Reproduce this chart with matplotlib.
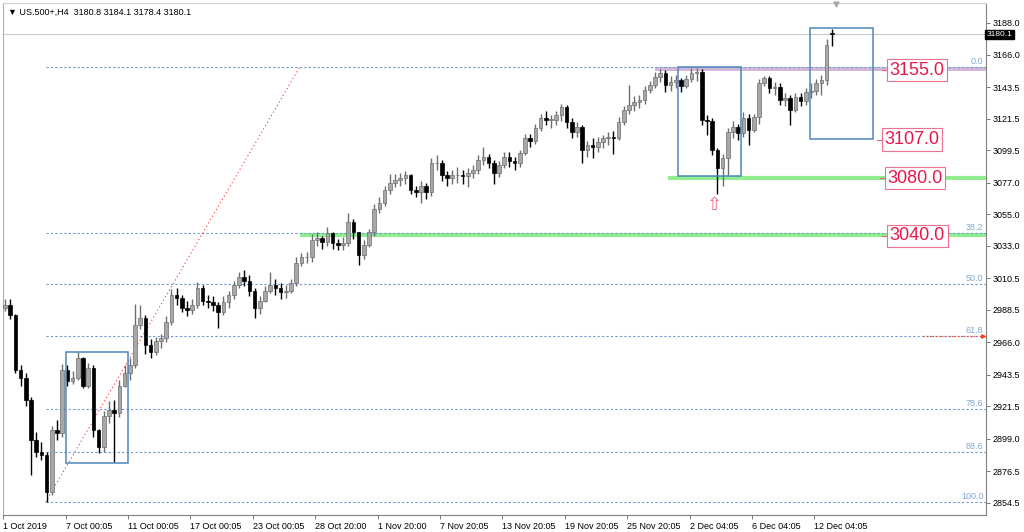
import matplotlib
matplotlib.use("Agg")
import matplotlib.pyplot as plt
import matplotlib.patches as mpatches

plt.rcParams['font.family'] = ['Liberation Sans', 'DejaVu Sans']

# H4 candles, 1 Oct - 12 Dec 2019 (one candle = 8 hours)
closes = [2992, 2985, 2947, 2941, 2926, 2898, 2890, 2888, 2862, 2905,
          2903, 2947, 2939, 2941, 2955, 2936, 2948, 2905, 2893, 2915,
          2919, 2917, 2936, 2945, 2950, 2978, 2983, 2964, 2959, 2967,
          2969, 2980, 2999, 2997, 2990, 2988.5, 2992, 3004, 2995, 2994,
          2992, 2987, 2994, 2999, 3006, 3011.5, 3009, 3002, 2990, 2995,
          3002, 3006, 3003.5, 3001, 3002, 3007, 3021, 3025, 3025.5, 3037,
          3038.5, 3035.5, 3042, 3035, 3034, 3035, 3049.5, 3042.5, 3026.5, 3033.5,
          3042.5, 3059, 3063, 3072, 3077, 3079, 3080, 3082, 3072, 3070.5,
          3074.5, 3070.5, 3090.5, 3091, 3082, 3080, 3082, 3082, 3081.5, 3084,
          3085.5, 3092.5, 3095, 3091, 3084, 3089, 3095, 3092, 3090.5, 3097.5,
          3108, 3106, 3115, 3122, 3120.5, 3120.5, 3124, 3129.5, 3119, 3112,
          3116, 3099.5, 3103, 3102, 3105, 3108, 3108.5, 3108, 3119, 3127.5,
          3131, 3133, 3134.5, 3141.5, 3145, 3150.5, 3153, 3145, 3147, 3148.5,
          3144, 3149, 3153, 3154, 3120.5, 3120, 3099.5, 3087, 3094, 3112,
          3116, 3111.5, 3122, 3113.5, 3122.5, 3146, 3150, 3143, 3143.5, 3134.5,
          3136, 3127.5, 3136.5, 3134, 3140, 3140.5, 3146, 3148.5, 3172.5, 3180.1]
highs = [2996, 2996, 2986, 2950, 2945, 2928, 2904, 2897, 2890, 2908,
         2912, 2951, 2950, 2946, 2959, 2956, 2952, 2950, 2906, 2918,
         2925, 2926, 2940, 2950, 2955, 2993, 2992, 2985, 2968, 2970,
         2972, 2984, 3003, 3004, 2999, 2995, 2996, 3008, 3006, 2999,
         2998, 2994, 2998, 3002, 3009, 3015, 3016, 3013, 3004, 2998,
         3005, 3015, 3010, 3007, 3006, 3010, 3025, 3028, 3029, 3041,
         3043, 3040, 3046, 3043, 3038, 3039, 3056, 3052, 3043, 3037,
         3045, 3062, 3067, 3075, 3083, 3083, 3084, 3085, 3083, 3075,
         3078, 3077, 3094, 3096, 3093, 3085, 3086, 3088, 3086, 3087,
         3089, 3096, 3102, 3097, 3093, 3092, 3098, 3098, 3095, 3100,
         3111, 3111, 3118, 3125, 3127, 3124, 3127, 3132, 3131, 3122,
         3119, 3117, 3106, 3108, 3109, 3110, 3112, 3113, 3123, 3130,
         3145, 3137, 3138, 3144, 3148, 3154, 3156, 3155, 3151, 3152,
         3150, 3152, 3157, 3157, 3156, 3124, 3122, 3101, 3097, 3115,
         3120, 3118, 3126, 3125, 3125, 3149, 3151, 3151, 3147, 3146,
         3139, 3138, 3139, 3139, 3143, 3146, 3149, 3152, 3177, 3184.1]
lows = [2988, 2982, 2945, 2936, 2922, 2874, 2886, 2884, 2855, 2860,
        2898, 2900, 2936, 2937, 2940, 2934, 2934, 2900, 2889, 2890,
        2910, 2883, 2914, 2935, 2940, 2948, 2975, 2958, 2955, 2957,
        2962, 2966, 2978, 2992, 2987, 2984, 2986, 2990, 2992, 2990,
        2988, 2976, 2985, 2990, 2996, 3004, 3005, 2998, 2983, 2986,
        2994, 3000, 2999, 2996, 2997, 3000, 3005, 3019, 3021, 3022,
        3033, 3031, 3033, 3031, 3030, 3030, 3033, 3038, 3020, 3024,
        3032, 3040, 3056, 3061, 3069, 3074, 3075, 3076, 3069, 3067,
        3063, 3066, 3068, 3086, 3078, 3075, 3076, 3077, 3076, 3074,
        3080, 3083, 3089, 3087, 3076, 3081, 3087, 3088, 3086, 3088,
        3096, 3102, 3104, 3113, 3117, 3115, 3117, 3120, 3115, 3108,
        3109, 3091, 3095, 3094, 3098, 3101, 3103, 3097, 3107, 3117,
        3125, 3127, 3129, 3132, 3139, 3143, 3147, 3140, 3141, 3143,
        3140, 3143, 3147, 3148, 3117, 3110, 3096, 3069, 3075, 3082,
        3108, 3107, 3109, 3103, 3112, 3118, 3144, 3139, 3138, 3131,
        3130, 3117, 3126, 3130, 3131, 3136, 3138, 3138, 3145, 3172]
opens = [2990] + closes[:-1]
opens[-1] = 3180.8

date_labels = ['1 Oct 2019', '7 Oct 00:05', '11 Oct 00:05', '17 Oct 00:05', '23 Oct 00:05',
               '28 Oct 20:00', '1 Nov 20:00', '7 Nov 20:05', '13 Nov 20:05', '19 Nov 20:05',
               '25 Nov 20:05', '2 Dec 04:05', '6 Dec 04:05', '12 Dec 04:05']
price_ticks = [2854.5, 2876.5, 2899.0, 2921.5, 2943.5, 2966.0, 2988.5, 3010.5,
               3033.0, 3055.0, 3077.0, 3099.5, 3121.5, 3143.5, 3166.0, 3188.0]

fib_high, fib_low = 3157.5, 2855.0
fib_levels = [0.0, 38.2, 50.0, 61.8, 78.6, 88.6, 100.0]
level_labels = [3155.0, 3107.0, 3080.0, 3040.0]
last_price = 3180.1

fig = plt.figure(figsize=(10.24, 5.32), dpi=100, facecolor='white')
ax = fig.add_axes([3.3 / 1024, 17 / 532, 982.4 / 1024, 512 / 532])
ax.set_xlim(-0.33, 188.6)
ax.set_ylim(2846.0, 3201.9)
xr = 188.6

# 当前价格线
ax.axhline(last_price, color='#c8c8c8', lw=0.8, zorder=1)

# 斐波那契回撤
for lv in fib_levels:
    p = fib_high - (fib_high - fib_low) * lv / 100
    ax.plot([7.8, xr], [p, p], color='#6b9bd2', lw=0.8, ls=(0, (2, 2)), zorder=2)
    ax.text(188.2, p + 0.8, f'{lv:.1f}', color='#7fa7d7', fontsize=6.5, ha='right', va='bottom', zorder=6)
ax.plot([7.8, 56.7], [fib_low, fib_high], color='#ff3030', lw=0.8, ls=(0, (1, 2.5)), zorder=2)
p618 = fib_high - (fib_high - fib_low) * 0.618
ax.plot([176.5, 188.0], [p618, p618], color='#ff4020', lw=0.9, ls=(0, (1, 1.5)), zorder=3)
ax.plot([188.0], [p618], marker='>', color='#ff4020', ms=2.5, zorder=3)

# 支撑/阻力区
ax.add_patch(mpatches.Rectangle((125, 3154.9), xr - 125, 2.7, facecolor='#c9a5cf', alpha=0.8,
                                edgecolor='none', zorder=1))
ax.plot([127.5, xr], [3080.5, 3080.5], color='#90ee90', lw=3, solid_capstyle='butt', zorder=1)
ax.plot([56.7, xr], [3040.5, 3040.5], color='#90ee90', lw=3, solid_capstyle='butt', zorder=1)

# K线
for i in range(len(closes)):
    o, h, l, c = opens[i], highs[i], lows[i], closes[i]
    bull = c >= o
    wc = '#6e6e6e' if bull else 'black'
    ax.vlines(i, l, h, color=wc, lw=1.0, zorder=4)
    ax.bar(i, max(abs(c - o), 0.5), bottom=min(o, c), width=0.7,
           color='#a8a8a8' if bull else 'black', edgecolor=wc, linewidth=0.5, zorder=5)

# 矩形框
for (x0, x1, y0, y1) in [(11.7, 23.7, 2882.1, 2959.1), (129.4, 141.5, 3081.5, 3157.3),
                         (154.9, 167.0, 3107.3, 3184.3)]:
    ax.add_patch(mpatches.Rectangle((x0, y0), x1 - x0, y1 - y0, fill=False,
                                    edgecolor='#4f86bf', lw=1.1, zorder=6))

# 价格标签
for val, xl in zip(level_labels, [169.8, 168.8, 169.4, 169.8]):
    ax.plot([xl - 1.15, xl], [val, val], color='#f06080', lw=0.8, zorder=6)
    ax.text(xl + 0.35, val, f'{val:.1f}', color='#e8174a', fontsize=13, ha='left', va='center',
            zorder=7, bbox=dict(boxstyle='square,pad=0.14', fc='white', ec='#f07090', lw=0.8))

ax.text(136.4, 3068, '⇧', color='#f06080', fontsize=13, ha='center', va='top',
        family=['DejaVu Sans'], zorder=7)
ax.plot([159.8], [3201.2], marker='v', color='#a8a8a8', ms=3.5, zorder=7, clip_on=False)

# 坐标轴
ax.yaxis.tick_right()
ax.set_yticks(price_ticks)
ax.set_yticklabels([f'{v:.1f}' for v in price_ticks], fontsize=6.5)
ax.set_xticks([12 * j - 0.33 for j in range(len(date_labels))])
ax.set_xticklabels(date_labels, fontsize=6.5, ha='left')
ax.tick_params(axis='both', length=3, width=0.6, color='#606060', pad=2)
for s in ax.spines.values():
    s.set_color('#808080')
    s.set_linewidth(0.8)
ax.spines['top'].set_color('#d0d0d0')
ax.spines['left'].set_color('#b0b0b0')

ax.text(188.75, last_price, f'{last_price:.1f}', color='white', fontsize=6, ha='left', va='center',
        bbox=dict(boxstyle='square,pad=0.15', fc='black', ec='black'), clip_on=False, zorder=8)
ax.text(0.6, 3198.5, '▼ US.500+,H4  3180.8 3184.1 3178.4 3180.1', fontsize=6.5, ha='left', va='top',
        color='black', zorder=8)

fig.savefig('out.png', dpi=100, facecolor='white')
